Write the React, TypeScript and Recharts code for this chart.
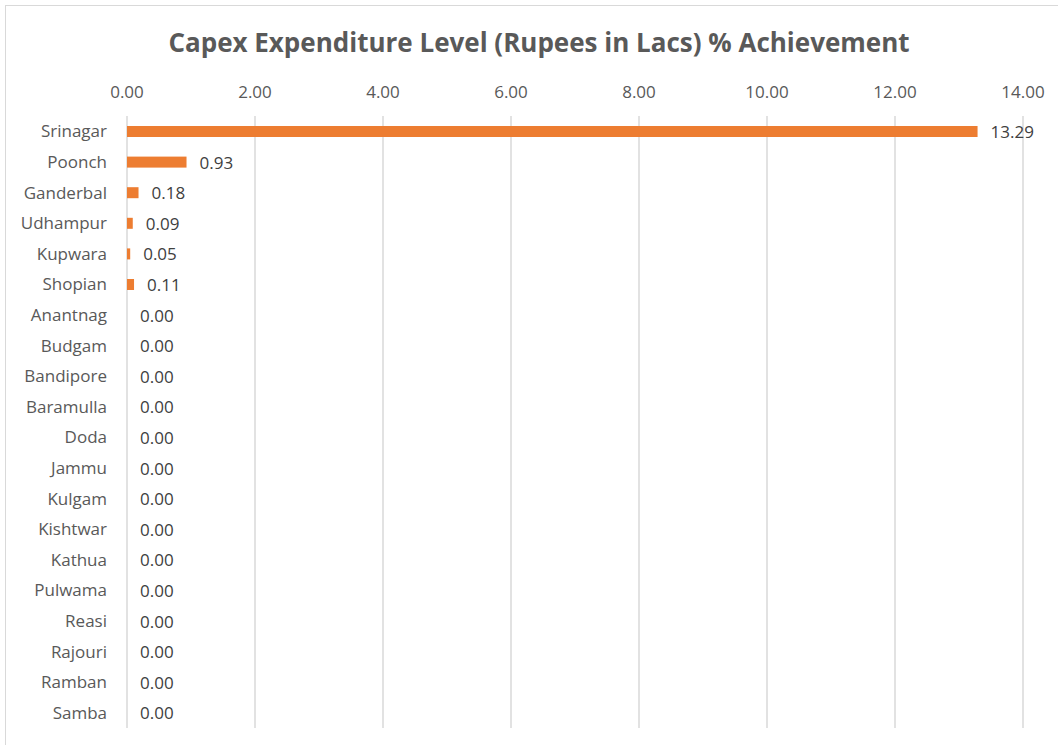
import { BarChart, Bar, XAxis, YAxis, CartesianGrid, LabelList } from 'recharts';

const districts = [
  'Srinagar', 'Poonch', 'Ganderbal', 'Udhampur', 'Kupwara', 'Shopian', 'Anantnag',
  'Budgam', 'Bandipore', 'Baramulla', 'Doda', 'Jammu', 'Kulgam', 'Kishtwar',
  'Kathua', 'Pulwama', 'Reasi', 'Rajouri', 'Ramban', 'Samba',
];
const achievement = [13.29, 0.93, 0.18, 0.09, 0.05, 0.11, 0, 0, 0, 0, 0, 0, 0, 0, 0, 0, 0, 0, 0, 0];
const xTicks = [0, 2, 4, 6, 8, 10, 12, 14];

const data = districts.map((name, i) => ({ name, value: achievement[i] }));

const font = '"Open Sans", sans-serif';

// zero rows keep a 1px entry (minPointSize) so they get a label, but draw no bar
const BarShape = (props: any) => {
  const { x, y, width, height, fill, payload } = props;
  if (!payload || payload.value === 0) return <g />;
  return <rect x={x} y={y} width={width} height={height} fill={fill} />;
};

const ValueLabel = (props: any) => {
  const { x, y, width, height, value } = props;
  if (x == null || y == null) return null;
  const w = Number(value) === 0 ? 0 : Number(width || 0);
  return (
    <text
      x={Number(x) + w + 13}
      y={Number(y) + Number(height || 0) / 2}
      dominantBaseline="central"
      fill="#404040"
      fontSize={17}
      fontFamily={font}
    >
      {Number(value).toFixed(2)}
    </text>
  );
};

export default function App() {
  return (
    <div style={{ position: 'absolute', left: 0, top: 0, width: 1058, height: 745, background: '#fff', overflow: 'hidden', fontFamily: font }}>
      <div style={{ position: 'absolute', left: 5, top: 5, width: 1100, height: 800, border: '1px solid #d9d9d9' }} />
      <div style={{ position: 'absolute', left: 0, top: 24, width: 1078, textAlign: 'center', fontSize: 26, fontWeight: 700, color: '#595959', lineHeight: '36px' }}>
        Capex Expenditure Level (Rupees in Lacs) % Achievement
      </div>
      <div style={{ position: 'absolute', left: 0, top: 0 }}>
        <BarChart
          width={1058}
          height={745}
          data={data}
          layout="vertical"
          margin={{ top: 86, right: 35, bottom: 17, left: 0 }}
          barCategoryGap={0}
        >
          <CartesianGrid horizontal={false} stroke="#d9d9d9" strokeWidth={1.5} />
          <XAxis
            type="number"
            orientation="top"
            domain={[0, 14]}
            ticks={xTicks}
            height={30}
            axisLine={false}
            tickLine={false}
            tickSize={0}
            tickMargin={18}
            tickFormatter={(v: number) => v.toFixed(2)}
            tick={{ fill: '#595959', fontSize: 17, fontFamily: font }}
          />
          <YAxis
            type="category"
            dataKey="name"
            width={127}
            axisLine={false}
            tickLine={false}
            tickSize={0}
            tickMargin={20}
            interval={0}
            tick={{ fill: '#595959', fontSize: 17, fontFamily: font }}
          />
          <Bar
            dataKey="value"
            fill="#ED7D31"
            barSize={11}
            minPointSize={1}
            shape={BarShape}
            isAnimationActive={false}
          >
            <LabelList dataKey="value" content={ValueLabel} />
          </Bar>
        </BarChart>
      </div>
    </div>
  );
}
